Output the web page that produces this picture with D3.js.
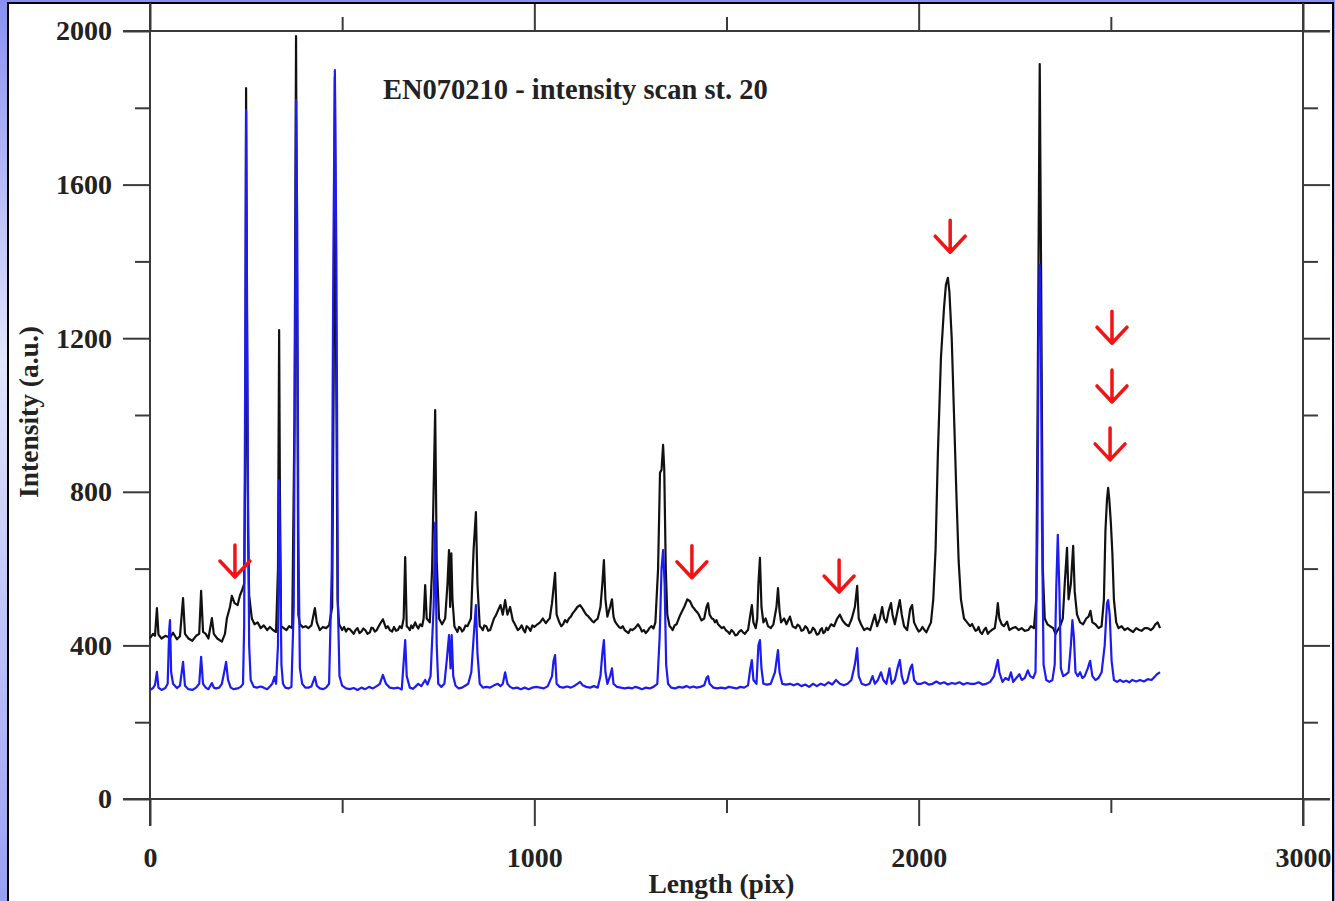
<!DOCTYPE html>
<html>
<head>
<meta charset="utf-8">
<script src="https://cdn.jsdelivr.net/npm/d3@7"></script>
<style>
  html, body { margin: 0; padding: 0; overflow: hidden; }
  body { width: 1335px; height: 901px; }
  svg { display: block; }
</style>
</head>
<body>
<svg id="chart" width="1335" height="901"></svg>
<script>
// ---------- DATA ----------
const chartTitle = "EN070210 - intensity scan st. 20";
const xAxisTitle = "Length (pix)";
const yAxisTitle = "Intensity (a.u.)";
const xMajorTicks = [0, 1000, 2000, 3000];
const xMinorTicks = [500, 1500, 2500];
const yMajorTicks = [0, 400, 800, 1200, 1600, 2000];
const yMinorTicks = [200, 600, 1000, 1400, 1800];

// black scan: [length (pix), intensity]
const blackScan = [
[0,419],[8,430],[13,425],[18,497],[22,428],[30,418],[40,425],[52,420],[60,433],[70,416],[78,424],[86,523],[91,430],[100,418],[110,412],[120,425],[128,430],[133,542],[138,435],[145,430],[152,418],[161,471],[166,430],[175,418],[187,410],[195,430],[200,470],[208,500],[213,529],[220,510],[228,505],[234,530],[240,545],[245,560],[248,900],[250,1851],[252,1300],[255,700],[258,530],[265,470],[272,455],[280,460],[288,445],[296,452],[305,440],[312,448],[320,440],[328,435],[333,600],[336,1221],[338,800],[341,450],[348,445],[355,440],[362,450],[370,445],[376,1000],[380,1987],[383,1200],[386,480],[390,455],[398,447],[405,450],[412,445],[420,452],[429,497],[434,460],[442,440],[450,448],[458,445],[466,452],[474,500],[478,1100],[481,1880],[484,1200],[488,520],[492,455],[500,440],[505,448],[510,436],[515,444],[520,442],[525,436],[530,430],[535,440],[540,445],[545,432],[550,436],[555,444],[560,440],[566,430],[572,434],[576,446],[580,445],[585,436],[590,440],[598,455],[606,468],[614,445],[619,450],[624,440],[630,436],[635,448],[640,438],[645,440],[650,450],[655,445],[660,470],[664,630],[668,450],[672,446],[676,440],[680,452],[684,445],[690,460],[694,450],[698,444],[703,455],[708,450],[712,470],[716,557],[720,470],[728,460],[734,600],[742,1013],[746,620],[752,470],[760,455],[768,470],[774,560],[778,648],[781,500],[784,640],[787,520],[792,450],[796,442],[800,435],[804,448],[808,445],[812,436],[816,440],[821,452],[826,450],[835,470],[842,650],[848,747],[852,560],[858,450],[862,446],[866,440],[870,452],[875,450],[880,438],[885,440],[890,455],[895,470],[900,478],[905,490],[912,505],[918,480],[924,518],[930,480],[937,500],[944,465],[948,458],[952,450],[957,440],[962,444],[967,452],[972,440],[976,434],[980,450],[985,446],[990,438],[995,452],[1000,448],[1008,455],[1015,460],[1022,470],[1030,458],[1036,466],[1040,470],[1046,510],[1054,589],[1058,480],[1065,460],[1070,450],[1075,455],[1080,466],[1085,460],[1090,470],[1095,475],[1100,484],[1105,490],[1112,500],[1119,505],[1126,495],[1130,488],[1135,480],[1140,476],[1145,470],[1150,464],[1155,460],[1160,466],[1165,470],[1172,500],[1177,560],[1181,622],[1185,520],[1190,475],[1197,500],[1202,520],[1206,475],[1210,462],[1215,455],[1220,448],[1225,445],[1230,450],[1235,440],[1240,436],[1245,432],[1250,442],[1255,440],[1262,445],[1270,455],[1276,445],[1280,436],[1285,440],[1290,432],[1295,438],[1300,446],[1305,450],[1310,444],[1315,460],[1322,600],[1327,850],[1331,857],[1335,922],[1338,860],[1342,600],[1346,480],[1352,450],[1356,446],[1360,440],[1365,452],[1370,455],[1375,468],[1380,480],[1385,490],[1390,500],[1398,520],[1405,515],[1412,500],[1416,496],[1420,490],[1424,486],[1428,480],[1435,465],[1442,470],[1448,500],[1452,510],[1456,480],[1462,470],[1466,468],[1470,460],[1474,466],[1478,455],[1483,450],[1488,445],[1493,448],[1498,440],[1503,436],[1508,430],[1513,440],[1518,435],[1523,426],[1528,428],[1533,436],[1538,440],[1543,434],[1548,430],[1552,436],[1556,440],[1562,480],[1566,505],[1570,460],[1576,445],[1580,470],[1583,560],[1587,628],[1591,500],[1596,460],[1602,470],[1608,450],[1615,445],[1622,455],[1630,500],[1634,549],[1638,490],[1642,460],[1650,470],[1656,455],[1665,475],[1672,450],[1680,445],[1685,454],[1690,450],[1695,438],[1700,440],[1705,450],[1710,445],[1715,432],[1720,435],[1725,446],[1730,440],[1735,428],[1740,430],[1744,440],[1748,445],[1752,432],[1756,435],[1760,446],[1764,440],[1772,455],[1780,450],[1788,470],[1795,480],[1802,465],[1810,455],[1818,450],[1826,470],[1834,500],[1840,555],[1844,470],[1850,455],[1858,440],[1866,445],[1874,440],[1880,460],[1886,480],[1892,450],[1899,470],[1905,500],[1910,470],[1916,460],[1922,490],[1928,510],[1932,480],[1938,455],[1946,495],[1951,518],[1956,480],[1962,450],[1970,440],[1978,495],[1983,505],[1988,460],[1995,445],[2000,436],[2005,440],[2010,448],[2015,440],[2020,434],[2025,445],[2032,460],[2038,520],[2044,650],[2050,900],[2058,1150],[2066,1280],[2071,1340],[2076,1357],[2080,1320],[2086,1200],[2092,1000],[2098,800],[2104,620],[2110,520],[2118,470],[2126,460],[2134,450],[2139,456],[2144,445],[2148,438],[2152,440],[2156,448],[2160,435],[2165,430],[2170,440],[2175,446],[2180,430],[2185,436],[2190,440],[2198,445],[2203,480],[2206,510],[2210,470],[2216,455],[2222,450],[2230,462],[2236,440],[2244,445],[2252,448],[2260,440],[2268,445],[2276,438],[2285,440],[2292,450],[2300,445],[2306,520],[2310,1100],[2315,1914],[2319,1300],[2323,600],[2328,470],[2335,455],[2342,450],[2350,445],[2356,430],[2362,440],[2368,450],[2375,470],[2380,560],[2386,654],[2390,520],[2396,560],[2402,659],[2406,540],[2412,480],[2420,460],[2428,455],[2436,470],[2442,475],[2447,490],[2452,460],[2460,455],[2468,445],[2476,450],[2482,520],[2486,700],[2490,780],[2493,810],[2496,780],[2500,720],[2504,640],[2508,520],[2514,460],[2520,445],[2528,450],[2536,440],[2544,445],[2550,440],[2558,435],[2566,445],[2574,440],[2580,438],[2588,445],[2596,445],[2604,440],[2610,445],[2616,455],[2622,460],[2628,445]
];

// blue scan: [length (pix), intensity]
const blueScan = [
[0,284],[8,289],[13,297],[18,331],[22,290],[30,284],[40,289],[46,300],[50,440],[52,466],[55,330],[60,300],[70,289],[78,295],[86,357],[91,295],[100,286],[110,284],[120,290],[128,300],[133,370],[138,300],[145,290],[152,286],[161,302],[166,290],[172,288],[180,290],[187,300],[193,330],[198,357],[203,310],[210,290],[218,286],[228,288],[236,292],[242,300],[245,450],[248,1200],[250,1794],[252,1400],[255,800],[258,400],[262,310],[270,292],[278,290],[288,293],[296,290],[305,286],[312,293],[318,300],[324,318],[328,300],[333,400],[336,830],[339,600],[342,350],[346,300],[352,290],[360,288],[368,292],[374,500],[378,1300],[380,1820],[383,1500],[386,700],[390,340],[396,300],[404,290],[412,290],[420,293],[429,318],[434,295],[442,288],[450,286],[458,290],[466,300],[473,600],[477,1400],[481,1898],[485,1400],[489,500],[493,320],[500,295],[510,288],[520,286],[530,289],[540,284],[550,290],[560,286],[570,292],[580,288],[590,294],[598,300],[606,323],[614,300],[624,290],[635,288],[645,290],[655,285],[664,414],[668,320],[676,290],[684,287],[690,292],[698,300],[706,294],[716,310],[722,298],[730,320],[738,500],[742,720],[746,400],[750,300],[758,292],[766,300],[772,360],[778,427],[782,340],[785,427],[789,320],[795,295],[803,288],[812,290],[820,295],[828,300],[836,330],[842,420],[848,505],[852,380],[858,300],[866,290],[875,292],[885,290],[895,296],[905,300],[912,294],[918,300],[924,330],[930,300],[937,292],[945,288],[955,290],[965,286],[975,290],[985,286],[995,290],[1005,292],[1015,290],[1025,288],[1035,294],[1046,320],[1050,360],[1054,375],[1058,300],[1066,292],[1075,290],[1085,293],[1095,290],[1105,295],[1112,300],[1119,305],[1126,296],[1135,292],[1145,290],[1155,294],[1165,290],[1172,320],[1177,380],[1181,414],[1185,330],[1190,300],[1197,320],[1202,340],[1206,300],[1215,292],[1225,290],[1235,288],[1245,290],[1255,288],[1262,292],[1270,290],[1280,286],[1290,290],[1300,288],[1310,292],[1320,300],[1326,420],[1331,600],[1335,648],[1339,560],[1343,350],[1348,300],[1356,290],[1366,288],[1376,292],[1386,290],[1396,294],[1405,290],[1414,293],[1422,290],[1432,292],[1442,296],[1448,315],[1452,320],[1456,300],[1466,290],[1476,288],[1486,290],[1496,288],[1506,292],[1516,290],[1526,288],[1536,292],[1546,290],[1556,296],[1562,340],[1566,362],[1570,310],[1578,300],[1583,400],[1587,414],[1591,340],[1596,300],[1605,298],[1615,300],[1626,330],[1634,388],[1638,330],[1645,300],[1655,298],[1665,300],[1675,296],[1685,300],[1695,294],[1705,298],[1715,292],[1725,300],[1735,294],[1745,300],[1755,296],[1765,304],[1775,298],[1785,310],[1795,300],[1805,296],[1815,300],[1825,310],[1834,350],[1840,393],[1844,320],[1852,300],[1862,296],[1872,300],[1880,320],[1886,300],[1894,310],[1902,330],[1908,310],[1916,300],[1924,340],[1930,300],[1938,310],[1946,345],[1951,362],[1956,320],[1962,300],[1970,306],[1978,340],[1983,350],[1988,310],[1996,300],[2006,300],[2016,304],[2026,298],[2036,300],[2046,306],[2056,300],[2066,304],[2076,298],[2086,302],[2096,300],[2106,304],[2116,298],[2126,302],[2136,300],[2146,300],[2156,304],[2166,298],[2176,300],[2186,305],[2196,320],[2203,350],[2206,362],[2210,330],[2218,305],[2226,315],[2234,310],[2240,330],[2246,305],[2254,315],[2262,325],[2268,310],[2276,315],[2284,335],[2290,320],[2298,315],[2304,330],[2309,700],[2312,1200],[2315,1391],[2318,1200],[2321,700],[2325,350],[2332,310],[2340,305],[2348,310],[2354,350],[2358,550],[2362,688],[2366,550],[2370,340],[2376,320],[2384,325],[2390,330],[2396,400],[2400,466],[2404,420],[2408,330],[2414,320],[2420,330],[2426,315],[2432,320],[2440,340],[2446,360],[2452,320],[2460,310],[2468,315],[2476,330],[2484,400],[2490,510],[2493,518],[2497,480],[2502,360],[2508,310],[2516,305],[2524,310],[2532,305],[2540,308],[2548,304],[2556,310],[2566,306],[2576,310],[2586,306],[2596,312],[2606,310],[2614,318],[2620,325],[2628,330]
];

// red arrow annotations: tip position [length (pix), intensity]
const arrowTips = [
[221,578],[1410,576],[1793,539],[2082,1424],[2503,1187],[2503,1034],[2498,883]
];

// ---------- DRAW ----------
const svg = d3.select("#chart");
const W = 1335, H = 901;
const mLeft = 150, mRight = 1303, mTop = 31, mBottom = 799;
const serif = "'Liberation Serif', 'Times New Roman', Times, serif";

const defs = svg.append("defs");
const grad = defs.append("linearGradient").attr("id", "bg").attr("x1", 0).attr("y1", 0).attr("x2", 0).attr("y2", 1);
grad.append("stop").attr("offset", "0%").attr("stop-color", "#8890f2");
grad.append("stop").attr("offset", "40%").attr("stop-color", "#e2e5fc");
grad.append("stop").attr("offset", "100%").attr("stop-color", "#98a0f4");

svg.append("rect").attr("width", W).attr("height", H).attr("fill", "url(#bg)");
svg.append("rect").attr("x", 8).attr("y", 3).attr("width", 1325).attr("height", 920)
  .attr("fill", "#ffffff").attr("stroke", "#000").attr("stroke-width", 2);

const x = d3.scaleLinear().domain([0, 3000]).range([mLeft, mRight]);
const y = d3.scaleLinear().domain([0, 2000]).range([mBottom, mTop]);

const axisColor = "#3a3a3a";
function styleAxis(g) {
  g.select(".domain").remove();
  g.selectAll(".tick line").attr("stroke", axisColor).attr("stroke-width", 2);
  g.selectAll(".tick text").attr("font-family", serif).attr("font-weight", "bold")
    .attr("font-size", "28px").attr("fill", "#222");
}

// frame lines (extended like the original)
const frame = svg.append("g").attr("stroke", axisColor).attr("stroke-width", 2);
frame.append("line").attr("x1", x(0) - 27).attr("x2", x(3000) + 27).attr("y1", y(2000)).attr("y2", y(2000));
frame.append("line").attr("x1", x(0) - 27).attr("x2", x(3000) + 27).attr("y1", y(0)).attr("y2", y(0));
frame.append("line").attr("x1", x(0)).attr("x2", x(0)).attr("y1", 3).attr("y2", y(0) + 27);
frame.append("line").attr("x1", x(3000)).attr("x2", x(3000)).attr("y1", 3).attr("y2", y(0) + 27);

// left axis
svg.append("g").attr("transform", `translate(${mLeft},0)`)
  .call(d3.axisLeft(y).tickValues(yMajorTicks).tickSize(27).tickPadding(11).tickFormat(d3.format("d")))
  .call(styleAxis);
svg.append("g").attr("transform", `translate(${mLeft},0)`)
  .call(d3.axisLeft(y).tickValues(yMinorTicks).tickSize(15).tickFormat(""))
  .call(styleAxis);
// right axis
svg.append("g").attr("transform", `translate(${mRight},0)`)
  .call(d3.axisRight(y).tickValues(yMajorTicks).tickSize(27).tickFormat(""))
  .call(styleAxis);
svg.append("g").attr("transform", `translate(${mRight},0)`)
  .call(d3.axisRight(y).tickValues(yMinorTicks).tickSize(15).tickFormat(""))
  .call(styleAxis);
// bottom axis
svg.append("g").attr("transform", `translate(0,${mBottom})`)
  .call(d3.axisBottom(x).tickValues(xMajorTicks).tickSize(27).tickPadding(21).tickFormat(d3.format("d")))
  .call(styleAxis);
svg.append("g").attr("transform", `translate(0,${mBottom})`)
  .call(d3.axisBottom(x).tickValues(xMinorTicks).tickSize(14).tickFormat(""))
  .call(styleAxis);
// top axis
svg.append("g").attr("transform", `translate(0,${mTop})`)
  .call(d3.axisTop(x).tickValues(xMajorTicks).tickSize(27).tickFormat(""))
  .call(styleAxis);
svg.append("g").attr("transform", `translate(0,${mTop})`)
  .call(d3.axisTop(x).tickValues(xMinorTicks).tickSize(14).tickFormat(""))
  .call(styleAxis);

// series
const line = d3.line().x(d => x(d[0])).y(d => y(d[1]));
svg.append("path").datum(blackScan).attr("d", line)
  .attr("fill", "none").attr("stroke", "#111").attr("stroke-width", 2.2).attr("stroke-linejoin", "round");
svg.append("path").datum(blueScan).attr("d", line)
  .attr("fill", "none").attr("stroke", "#1c1cf0").attr("stroke-width", 2.2).attr("stroke-linejoin", "round");

// arrows
const arrows = svg.append("g").attr("fill", "none").attr("stroke", "#f01414")
  .attr("stroke-width", 3.5).attr("stroke-linecap", "round").attr("stroke-linejoin", "round");
arrows.selectAll("path").data(arrowTips).join("path")
  .attr("d", d => {
    const tx = x(d[0]), ty = y(d[1]);
    return `M${tx},${ty - 32}L${tx},${ty}M${tx - 15},${ty - 16}L${tx},${ty}L${tx + 15},${ty - 16}`;
  });

// title
svg.append("text").attr("x", 383).attr("y", 99).attr("font-family", serif).attr("font-weight", "bold")
  .attr("font-size", "28.5px").attr("fill", "#222").text(chartTitle);

// axis titles
svg.append("text").attr("x", (mLeft + mRight) / 2 - 5).attr("y", 893).attr("text-anchor", "middle")
  .attr("font-family", serif).attr("font-weight", "bold").attr("font-size", "27.5px").attr("fill", "#222")
  .text(xAxisTitle);
svg.append("text").attr("transform", `translate(38,412) rotate(-90)`).attr("text-anchor", "middle")
  .attr("font-family", serif).attr("font-weight", "bold").attr("font-size", "27.5px").attr("fill", "#222")
  .text(yAxisTitle);
</script>
</body>
</html>
